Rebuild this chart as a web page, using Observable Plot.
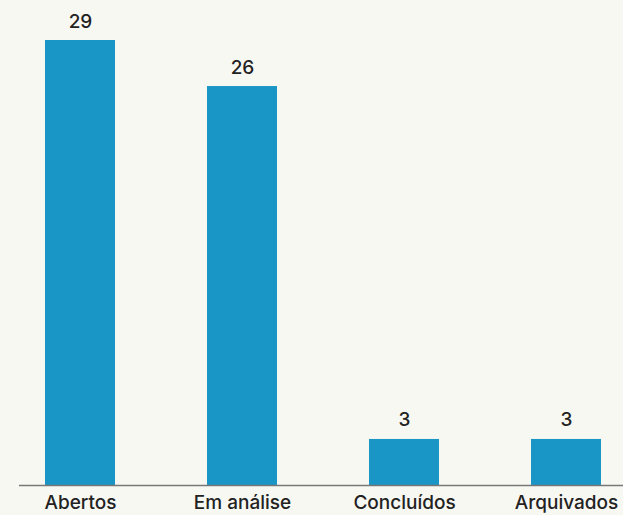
<!DOCTYPE html>
<html>
<head>
<meta charset="utf-8">
<script src="https://cdn.jsdelivr.net/npm/d3@7"></script>
<script src="https://cdn.jsdelivr.net/npm/@observablehq/plot@0.6"></script>
<style>
  html, body { margin: 0; padding: 0; background: #f8f8f3; }
</style>
</head>
<body>
<div id="chart"></div>
<script>
const categories = ["Abertos", "Em análise", "Concluídos", "Arquivados"];
const values = [29, 26, 3, 3];

const data = categories.map((c, i) => ({category: c, value: values[i]}));

const fontFamily = "Inter, sans-serif";

const chart = Plot.plot({
  width: 623,
  height: 515,
  marginTop: 40,
  marginBottom: 30,
  marginLeft: 19,
  marginRight: 0,
  style: {background: "#f8f8f3", fontFamily, color: "#222"},
  x: {domain: categories, range: [44, 601], paddingInner: 0.569, paddingOuter: 0, label: null},
  y: {domain: [0, 29], axis: null},
  marks: [
    Plot.barY(data, {x: "category", y: "value", fill: "#1a96c6"}),
    Plot.ruleY([0], {stroke: "#777", strokeWidth: 1.5}),
    Plot.axisX({tickSize: 0, tickPadding: 10, fontSize: 19, fontWeight: 500, fill: "#222", label: null}),
    Plot.text(data, {x: "category", y: "value", text: d => String(d.value), lineAnchor: "bottom", dy: -13, fontSize: 19, fontWeight: 500, fill: "#222"})
  ]
});
document.getElementById("chart").appendChild(chart);
</script>
</body>
</html>
